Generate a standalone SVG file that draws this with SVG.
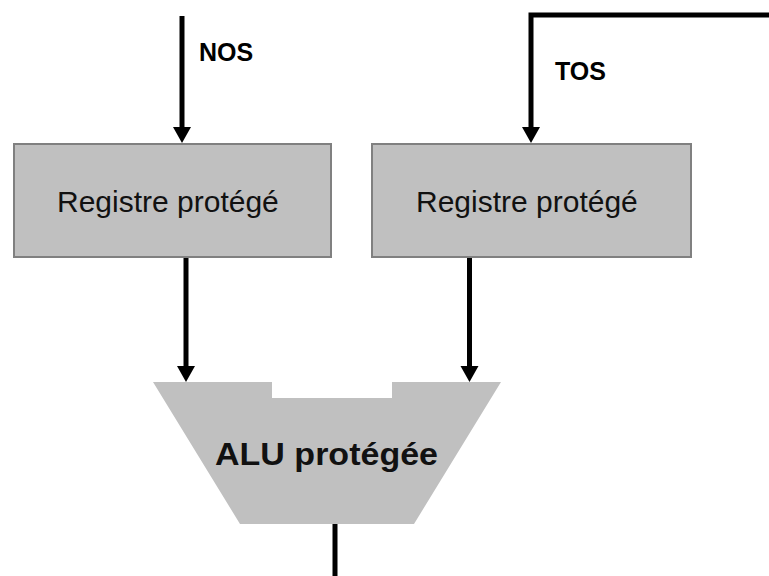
<svg xmlns="http://www.w3.org/2000/svg" width="769" height="576" viewBox="0 0 769 576">
<style>
.reg{fill:#c0c0c0;stroke:#808080;stroke-width:2}
.alu{fill:#c0c0c0;stroke:none}
.conn{stroke:#000;stroke-width:5;fill:none}
.lbl{font-family:"Liberation Sans",Arial,sans-serif;font-weight:bold;font-size:25px;fill:#000}
.rt{font-family:"Liberation Sans",Arial,sans-serif;font-size:30px;fill:#111}
.at{font-family:"Liberation Sans",Arial,sans-serif;font-weight:bold;font-size:32px;fill:#111}
</style>
<defs>
<marker id="ah" markerUnits="userSpaceOnUse" markerWidth="17" markerHeight="18" refX="0" refY="9" orient="auto" overflow="visible">
<path d="M0,0 L16,9 L0,18 z" fill="#000"/>
</marker>
</defs>
<rect width="769" height="576" fill="#fff"/>
<g id="reg1">
<rect class="reg" x="14" y="144" width="317" height="113"/>
<text class="rt" x="57" y="212">Registre protégé</text>
</g>
<g id="reg2">
<rect class="reg" x="372" y="144" width="319" height="113"/>
<text class="rt" x="416" y="212">Registre protégé</text>
</g>
<g id="alu">
<path class="alu" d="M153,382 L272,382 L272,398 L392,398 L392,382 L501,382 L414,524 L240,524 Z"/>
<text class="at" x="215" y="465" textLength="223" lengthAdjust="spacingAndGlyphs">ALU protégée</text>
</g>
<g id="connectors">
<path class="conn" d="M182,16 L182,127" marker-end="url(#ah)"/>
<path class="conn" d="M769,15 L531,15 L531,127" marker-end="url(#ah)"/>
<path class="conn" d="M186,258 L186,366" marker-end="url(#ah)"/>
<path class="conn" d="M469.5,258 L469.5,366" marker-end="url(#ah)"/>
<path class="conn" d="M335,524 L335,576"/>
<text class="lbl" x="199" y="61">NOS</text>
<text class="lbl" x="555" y="80">TOS</text>
</g>
</svg>
